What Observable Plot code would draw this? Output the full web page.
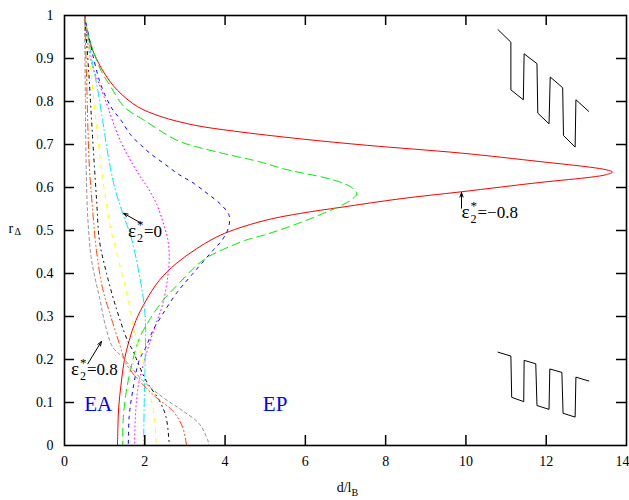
<!DOCTYPE html>
<html><head><meta charset="utf-8">
<script src="https://cdn.jsdelivr.net/npm/d3@7"></script>
<script src="https://cdn.jsdelivr.net/npm/@observablehq/plot@0.6"></script>
<style>body{margin:0;background:#fff}</style>
</head><body><div id="chart"></div>
<script>
// ---- data: curves r_Delta vs d/l_B for eps2* = -0.8 ... 0.8 ----
const epsValues = [-0.8, -0.6, -0.4, -0.2, 0, 0.2, 0.4, 0.6, 0.8];
const curveM08 = [[0.5,1.0],[0.58,0.953],[0.74,0.911],[0.99,0.866],[1.32,0.826],[1.82,0.788],[2.40,0.765],[3.23,0.745],[4.23,0.731],[5.89,0.713],[7.55,0.698],[9.88,0.680],[11.87,0.660],[13.11,0.647],[13.5,0.641],[13.65,0.636],[13.5,0.630],[13.11,0.624],[11.87,0.612],[9.88,0.590],[8.38,0.574],[6.89,0.554],[5.89,0.540],[5.06,0.525],[4.23,0.502],[3.77,0.484],[3.28,0.457],[2.78,0.423],[2.36,0.384],[2.03,0.337],[1.78,0.291],[1.61,0.244],[1.49,0.198],[1.41,0.143],[1.35,0.089],[1.33,0.04],[1.32,0.0]];
const curveM06 = [[0.5,1.0],[0.62,0.946],[0.91,0.872],[1.16,0.833],[1.49,0.787],[1.99,0.756],[2.82,0.709],[3.65,0.686],[4.89,0.659],[5.47,0.643],[6.72,0.617],[7.15,0.600],[7.28,0.585],[7.15,0.572],[6.89,0.558],[5.89,0.519],[5.06,0.492],[4.50,0.477],[4.00,0.458],[3.60,0.440],[3.28,0.418],[2.86,0.378],[2.45,0.337],[2.11,0.291],[1.86,0.248],[1.66,0.182],[1.53,0.120],[1.46,0.058],[1.45,0.0]];
const curveM04 = [[0.5,1.0],[0.87,0.849],[1.16,0.787],[1.41,0.756],[1.66,0.721],[1.91,0.698],[2.15,0.678],[2.49,0.655],[2.82,0.632],[3.23,0.609],[3.57,0.585],[3.90,0.560],[4.10,0.535],[4.08,0.505],[3.92,0.477],[3.69,0.453],[3.19,0.399],[2.78,0.353],[2.45,0.306],[2.20,0.267],[2.03,0.229],[1.86,0.198],[1.70,0.128],[1.61,0.066],[1.59,0.0]];
const curveM02 = [[0.5,1.0],[0.66,0.895],[0.99,0.810],[1.41,0.705],[1.82,0.635],[2.07,0.600],[2.30,0.560],[2.45,0.520],[2.57,0.480],[2.61,0.440],[2.57,0.391],[2.45,0.330],[2.28,0.283],[2.11,0.236],[1.97,0.190],[1.86,0.151],[1.78,0.089],[1.74,0.0]];
const curveP00 = [[0.5,1.0],[0.70,0.888],[0.83,0.826],[0.95,0.756],[1.08,0.678],[1.25,0.600],[1.45,0.540],[1.66,0.484],[1.86,0.399],[1.99,0.322],[2.02,0.267],[2.01,0.200],[1.99,0.120],[1.97,0.0]];
const curveP02 = [[0.5,1.0],[0.62,0.900],[0.70,0.829],[0.78,0.756],[0.87,0.680],[1.03,0.570],[1.16,0.500],[1.37,0.423],[1.57,0.345],[1.78,0.252],[1.95,0.198],[2.11,0.128],[2.24,0.066],[2.28,0.0]];
const curveP04 = [[0.5,1.0],[0.58,0.900],[0.62,0.845],[0.66,0.779],[0.72,0.686],[0.80,0.570],[0.87,0.477],[1.03,0.407],[1.28,0.322],[1.57,0.244],[1.70,0.221],[2.03,0.151],[2.36,0.105],[2.53,0.066],[2.61,0.0]];
const curveP06 = [[0.5,1.0],[0.55,0.857],[0.58,0.748],[0.62,0.647],[0.69,0.560],[0.80,0.450],[0.95,0.365],[1.12,0.310],[1.37,0.236],[1.55,0.188],[1.86,0.151],[2.28,0.112],[2.69,0.081],[2.94,0.043],[3.04,0.0]];
const curveP08 = [[0.5,1.0],[0.52,0.800],[0.54,0.650],[0.58,0.530],[0.66,0.440],[0.76,0.390],[0.87,0.345],[1.03,0.275],[1.20,0.229],[1.45,0.205],[1.95,0.151],[2.45,0.112],[2.94,0.081],[3.36,0.050],[3.57,0.012],[3.60,0.0]];
const curves = [curveM08, curveM06, curveM04, curveM02, curveP00, curveP02, curveP04, curveP06, curveP08];

// zig-zag sketches (in d, r units)
const iconTop = [[10.80,0.967],[11.12,0.938],[11.12,0.827],[11.43,0.804],[11.45,0.911],[11.77,0.888],[11.79,0.773],[12.07,0.748],[12.10,0.857],[12.41,0.832],[12.43,0.721],[12.72,0.694],[12.74,0.804],[13.06,0.777]];
const iconBottom = [[10.80,0.217],[11.12,0.208],[11.14,0.112],[11.44,0.102],[11.45,0.198],[11.74,0.190],[11.77,0.093],[12.07,0.084],[12.09,0.178],[12.39,0.170],[12.42,0.075],[12.72,0.066],[12.74,0.159],[13.06,0.150]];

// annotations
const labelSuffix = ["=0", "=0.8", "=\u22120.8"];
const labelD = [1.58, 0.16, 9.89];
const labelR = [0.484, 0.163, 0.528];
const arrowD1 = [1.91, 0.58, 9.89];
const arrowR1 = [0.517, 0.19, 0.552];
const arrowD2 = [1.47, 0.92, 9.89];
const arrowR2 = [0.540, 0.242, 0.588];
const regionText = ["EA", "EP"];
const regionD = [0.49, 4.94];
const regionR = [0.080, 0.080];

// ticks
const xTicks = [0, 2, 4, 6, 8, 10, 12, 14];
const yTicks = [0, 0.1, 0.2, 0.3, 0.4, 0.5, 0.6, 0.7, 0.8, 0.9, 1];
const yTickLabels = ["0", "0.1", "0.2", "0.3", "0.4", "0.5", "0.6", "0.7", "0.8", "0.9", "1"];

// ---- styles ----
const colors = ["#ff0000", "#00ee00", "#0000ff", "#ff00ff", "#00e8ff", "#ffff00", "#000000", "#ff4500", "#909090"];
const dashes = [null, "8,5", "3,5", "1,3", "8,3,1,3", "4,6", "3,4,1,4", "7,3,1,3,1,3", "3,3"];

const serif = "Liberation Serif, Times New Roman, DejaVu Serif, serif";
const labels = labelSuffix.map((s, i) => ({s, d: labelD[i], r: labelR[i]}));
const arrows = arrowD1.map((d, i) => ({d1: d, r1: arrowR1[i], d2: arrowD2[i], r2: arrowR2[i]}));
const regions = regionText.map((t, i) => ({t, d: regionD[i], r: regionR[i]}));
const xt = 10 / 430, yt = 10 / 40.15; // inward tick lengths in data units

const marks = [];
curves.forEach((c, i) => {
  marks.push(Plot.line(c, {x: d => d[0], y: d => d[1], stroke: colors[i], strokeWidth: 1, strokeDasharray: dashes[i], curve: "catmull-rom"}));
});
marks.push(
  Plot.line(iconTop, {x: d => d[0], y: d => d[1], stroke: "#000", strokeWidth: 1}),
  Plot.line(iconBottom, {x: d => d[0], y: d => d[1], stroke: "#000", strokeWidth: 1}),
  Plot.arrow(arrows, {x1: "d1", y1: "r1", x2: "d2", y2: "r2", stroke: "#000", strokeWidth: 1, headLength: 7, headAngle: 40}),
  Plot.text(labels, {x: "d", y: "r", text: () => "\u03b5", textAnchor: "start", lineAnchor: "bottom", fontSize: 19, fontFamily: serif, fill: "#000"}),
  Plot.text(labels, {x: "d", y: "r", text: () => "2", textAnchor: "start", lineAnchor: "bottom", dx: 9, dy: 5, fontSize: 12, fontFamily: serif, fill: "#000"}),
  Plot.text(labels, {x: "d", y: "r", text: () => "*", textAnchor: "start", lineAnchor: "bottom", dx: 9, dy: -8, fontSize: 13, fontFamily: serif, fill: "#000"}),
  Plot.text(labels, {x: "d", y: "r", text: "s", textAnchor: "start", lineAnchor: "bottom", dx: 16, fontSize: 17, fontFamily: serif, fill: "#000"}),
  Plot.text(regions, {x: "d", y: "r", text: "t", textAnchor: "start", lineAnchor: "bottom", fontSize: 21, fontFamily: serif, fill: "#0000ff"}),
  // inward ticks (gnuplot style, mirrored)
  Plot.ruleX(xTicks.slice(1, -1), {x: d => d, y1: 0, y2: xt, stroke: "#000", strokeWidth: 1.5}),
  Plot.ruleX(xTicks.slice(1, -1), {x: d => d, y1: 1 - xt, y2: 1, stroke: "#000", strokeWidth: 1.5}),
  Plot.ruleY(yTicks.slice(1, -1), {y: d => d, x1: 0, x2: yt, stroke: "#000", strokeWidth: 1.5}),
  Plot.ruleY(yTicks.slice(1, -1), {y: d => d, x1: 14 - yt, x2: 14, stroke: "#000", strokeWidth: 1.5}),
  Plot.frame({stroke: "#000", strokeWidth: 1.6}),
  Plot.axisX({ticks: xTicks.slice(0, -1), tickSize: 0, tickPadding: 11, label: null, fontSize: 14, fontFamily: serif}),
  Plot.text(xTicks.slice(-1), {x: d => d, frameAnchor: "bottom", text: d => String(d), textAnchor: "end", lineAnchor: "top", dx: 3, dy: 11, fontSize: 14, fontFamily: serif, fill: "#000"}),
  Plot.axisY({ticks: yTicks, tickSize: 0, tickPadding: 11, label: null, tickFormat: d => yTickLabels[yTicks.indexOf(d)], fontSize: 14, fontFamily: serif}),
  // axis titles
  Plot.text(["d/l"], {frameAnchor: "bottom", text: d => d, textAnchor: "end", lineAnchor: "bottom", dx: 6, dy: 46, fontSize: 14, fontFamily: serif, fill: "#000"}),
  Plot.text(["B"], {frameAnchor: "bottom", text: d => d, textAnchor: "start", lineAnchor: "bottom", dx: 6, dy: 50, fontSize: 10, fontFamily: serif, fill: "#000"}),
  Plot.text(["r"], {x: 0, y: 0.5, text: d => d, textAnchor: "start", lineAnchor: "bottom", dx: -56, dy: 2, fontSize: 14, fontFamily: serif, fill: "#000"}),
  Plot.text(["\u0394"], {x: 0, y: 0.5, text: d => d, textAnchor: "start", lineAnchor: "bottom", dx: -50, dy: 4, fontSize: 10, fontFamily: serif, fill: "#000"})
);

const chart = Plot.plot({
  width: 629, height: 500,
  marginLeft: 64, marginRight: 3, marginTop: 15, marginBottom: 55,
  x: {domain: [0, 14]},
  y: {domain: [0, 1]},
  style: {fontFamily: serif, fontSize: "14px", color: "#000", background: "#fff"},
  marks
});
document.getElementById("chart").appendChild(chart);
</script></body></html>
